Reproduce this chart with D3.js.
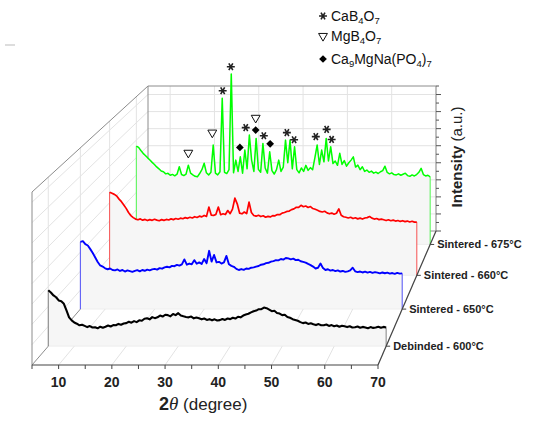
<!DOCTYPE html>
<html>
<head>
<meta charset="UTF-8">
<style>
  body { margin: 0; background: #fff; }
  svg { display: block; font-family: "Liberation Sans", Arial, sans-serif; }
</style>
</head>
<body>
<svg width="550" height="422"></svg>
<script src="https://d3js.org/d3.v7.min.js"></script>
<script>

// 2theta grid: 5..70 deg, 0.5 deg step
const angleStart = 5, angleStep = 0.5;

const seriesNames = ["Debinded - 600°C", "Sintered - 650°C", "Sintered - 660°C", "Sintered - 675°C"];
const seriesColors = ["#000000", "#0000ff", "#ff0000", "#00ff00"];

const debinded600 = [
  28.1, 27.0, 25.5, 24.6, 23.0, 22.6, 21.3, 18.0, 14.5, 13.0,
  11.9, 11.3, 10.5, 10.8, 10.2, 9.6, 10.1, 9.4, 9.5, 9.0,
  9.8, 9.3, 9.8, 10.4, 9.9, 10.6, 10.5, 11.2, 10.8, 11.4,
  11.6, 12.3, 11.8, 12.6, 12.1, 13.0, 12.8, 13.8, 14.0, 13.5,
  14.6, 14.1, 14.5, 15.4, 14.9, 15.8, 15.6, 15.0, 16.2, 15.6,
  16.6, 15.4, 15.0, 14.7, 14.5, 14.9, 14.0, 14.4, 14.0, 13.5,
  13.9, 13.2, 13.6, 13.0, 13.5, 12.9, 13.1, 13.7, 13.2, 13.9,
  13.6, 14.3, 13.9, 14.8, 14.5, 15.4, 15.9, 16.3, 17.0, 17.6,
  17.9, 18.6, 18.6, 19.4, 19.1, 18.4, 17.6, 17.8, 16.7, 16.4,
  15.6, 15.8, 14.7, 14.3, 13.6, 13.2, 12.8, 12.1, 11.6, 11.9,
  11.2, 11.5, 11.0, 10.6, 11.1, 10.5, 10.5, 10.9, 10.2, 10.6,
  10.0, 10.4, 9.8, 10.3, 10.0, 9.6, 10.0, 9.4, 9.5, 9.9,
  9.3, 9.7, 9.4, 9.0, 9.6, 9.2, 9.4, 9.8, 9.3, 9.7,
  9.4
];

const sintered650 = [
  35.4, 35.8, 34.2, 33.5, 31.6, 29.6, 27.2, 24.8, 23.0, 22.4,
  21.5, 21.0, 21.4, 20.6, 20.4, 20.9, 20.1, 20.6, 19.8, 20.4,
  20.0, 19.6, 20.1, 20.5, 19.9, 20.6, 20.2, 20.8, 20.4, 20.9,
  21.2, 20.8, 21.6, 21.3, 22.0, 22.3, 22.0, 22.8, 22.6, 23.3,
  22.9, 23.6, 26.2, 23.4, 24.0, 23.6, 25.8, 23.9, 24.6, 23.8,
  26.4, 24.2, 30.7, 25.0, 28.5, 24.6, 24.9, 24.0, 24.6, 28.0,
  23.6, 22.8, 22.3, 21.2, 20.6, 21.1, 20.7, 21.4, 21.2, 21.8,
  22.0, 22.4, 22.7, 23.4, 23.6, 24.2, 24.4, 25.0, 25.3, 25.8,
  25.7, 26.4, 26.1, 26.9, 26.7, 26.2, 26.6, 25.8, 26.0, 25.2,
  24.9, 24.5, 23.8, 23.2, 22.4, 21.4, 21.8, 24.0, 21.6, 20.6,
  21.0, 20.3, 20.6, 20.0, 20.4, 19.8, 20.1, 19.6, 19.9, 20.4,
  21.8, 19.9, 19.5, 19.8, 19.3, 19.7, 19.2, 19.6, 19.1, 19.5,
  19.2, 18.8, 19.3, 18.9, 19.2, 18.7, 19.0, 18.6, 19.1, 18.7,
  18.8
];

const sintered660 = [
  45.8, 45.2, 44.6, 43.7, 42.0, 40.6, 38.8, 36.9, 34.6, 32.9,
  31.8, 31.0, 30.6, 31.1, 30.4, 30.8, 30.2, 30.7, 30.3, 30.9,
  30.4, 30.1, 30.7, 30.3, 30.8, 30.5, 31.1, 30.7, 31.3, 30.9,
  31.5, 31.2, 31.8, 31.4, 32.0, 31.6, 32.3, 31.9, 32.6, 32.2,
  33.0, 32.5, 37.6, 33.2, 33.0, 33.6, 37.6, 33.4, 33.9, 33.5,
  35.7, 34.0, 36.5, 42.5, 39.4, 34.3, 33.9, 34.9, 34.0, 40.3,
  34.6, 33.0, 32.6, 33.1, 32.4, 32.8, 32.0, 32.5, 32.2, 32.9,
  32.8, 33.5, 33.4, 34.3, 34.6, 35.2, 35.4, 36.2, 36.6, 37.5,
  37.4, 38.6, 37.8, 38.2, 37.4, 37.9, 36.8, 36.4, 35.9, 35.2,
  34.9, 35.3, 34.4, 33.9, 34.3, 33.7, 34.2, 36.6, 33.1, 32.3,
  32.0, 31.6, 32.0, 31.3, 31.7, 31.1, 31.5, 31.0, 31.6, 31.8,
  32.4, 31.5, 31.0, 31.3, 30.7, 31.0, 30.6, 30.2, 30.6, 30.1,
  30.4, 29.9, 30.2, 29.7, 30.1, 29.6, 29.9, 29.4, 29.8, 29.3,
  29.3
];

const sintered675 = [
  56.6, 55.8, 54.0, 52.4, 51.2, 49.8, 48.6, 47.2, 46.0, 44.6,
  43.5, 42.2, 41.8, 40.6, 40.9, 39.8, 40.3, 39.5, 40.4, 44.7,
  40.2, 39.6, 40.5, 45.6, 41.0, 40.0, 39.2, 38.9, 40.8, 43.0,
  46.7, 41.2, 40.0, 41.5, 57.2, 41.0, 40.0, 41.8, 84.1, 41.5,
  40.8, 43.0, 98.0, 41.2, 48.5, 42.0, 50.4, 41.0, 54.3, 43.5,
  62.9, 48.5, 42.0, 61.0, 43.2, 41.5, 58.1, 44.0, 41.0, 53.3,
  42.5, 40.5, 43.0, 48.5, 42.0, 44.5, 60.0, 47.0, 60.0, 43.5,
  56.2, 43.0, 41.2, 44.0, 42.0, 45.5, 42.6, 44.2, 43.0, 50.0,
  57.2, 46.0, 54.3, 47.5, 61.0, 48.0, 56.2, 46.5, 48.0, 45.5,
  52.4, 46.0, 48.2, 45.0, 47.0, 48.5, 50.4, 44.5, 45.6, 43.0,
  44.7, 42.0, 42.8, 41.5, 42.2, 41.0, 41.6, 40.8, 41.8, 42.5,
  45.0, 41.4, 40.6, 41.2, 40.2, 40.0, 40.6, 39.8, 40.4, 41.0,
  39.6, 39.2, 40.0, 39.4, 40.2, 41.5, 43.8, 40.2, 39.4, 39.8,
  38.9
];

const seriesValues = [debinded600, sintered650, sintered660, sintered675];

// phase markers on the 675 °C pattern: [2theta, height]
const cab4o7Marks = [[24.1, 88.4], [25.9, 102.2], [29.2, 67.2], [33.2, 62.5], [38.3, 64.3],
                     [39.9, 60.2], [44.7, 62.0], [47.1, 66.2], [48.2, 60.4]];
const mgb4o7Marks = [[16.5, 52.7], [21.8, 64.3], [31.4, 72.8]];
const ca9Marks = [[27.9, 55.8], [31.4, 65.8], [34.6, 57.9]];

const xTicks = [10, 20, 30, 40, 50, 60, 70];
const xMinorTicks = [5, 15, 25, 35, 45, 55, 65];
const hGrid = [10, 20, 30, 40, 50, 60, 70, 80];
const hTicks = [0, 5, 10, 15, 20, 25, 30, 35, 40, 45, 50, 55, 60, 65, 70, 75, 80, 85];

seriesValues.forEach((s, i) => {
  if (s.length !== 131) throw new Error("series " + i + " has " + s.length + " points");
});

let svg = d3.select("svg");

// --- perspective box: 2theta 5..70, depth 0..1, height 0..85
const persp = 0.198;
const screenT = z => z * (1 + persp) / (1 + persp * z);
const leftX = d3.scaleLinear().domain([0, 1]).range([32, 148]);
const rightX = d3.scaleLinear().domain([0, 1]).range([378, 436]);
const baseY = d3.scaleLinear().domain([0, 1]).range([365, 231]);
const topY = d3.scaleLinear().domain([0, 1]).range([192, 86]);
const zScale = d3.scaleLinear().domain([0, 3]).range([0.12, 0.882]);

function plane(z) {
  let t = screenT(z);
  return {
    x: d3.scaleLinear().domain([5, 70]).range([leftX(t), rightX(t)]),
    y: d3.scaleLinear().domain([0, 85]).range([baseY(t), topY(t)])
  };
}
function P(a, z, h) { let p = plane(z); return [p.x(a), p.y(h)]; }

function seg(g, p1, p2, color, w) {
  return g.append("line")
    .attr("x1", p1[0]).attr("y1", p1[1])
    .attr("x2", p2[0]).attr("y2", p2[1])
    .attr("stroke", color).attr("stroke-width", w);
}

// stray mark at top-left of the original figure
seg(svg, [5, 45], [15, 45], "#bbbbbb", 1);

let grid = svg.append("g");
const gridColor = "#e3e3e3";

// back wall
xTicks.forEach(a => seg(grid, P(a, 1, 0), P(a, 1, 85), gridColor, 1));
hGrid.forEach(h => seg(grid, P(5, 1, h), P(70, 1, h), gridColor, 1));
// left wall
hGrid.forEach(h => seg(grid, P(5, 0, h), P(5, 1, h), gridColor, 1));
seriesNames.forEach((n, i) => seg(grid, P(5, zScale(i), 0), P(5, zScale(i), 85), gridColor, 1));
// floor
xTicks.forEach(a => seg(grid, P(a, 0, 0), P(a, 1, 0), gridColor, 1));

// box edges
let edges = svg.append("g");
const edgeColor = "#8c8c8c";
seg(edges, P(5, 0, 0), P(5, 0, 85), edgeColor, 1);
seg(edges, P(5, 0, 85), P(5, 1, 85), edgeColor, 1);
seg(edges, P(5, 1, 85), P(70, 1, 85), edgeColor, 1);
seg(edges, P(5, 1, 0), P(5, 1, 85), edgeColor, 1);
seg(edges, P(70, 1, 0), P(70, 1, 85), edgeColor, 1);
seg(edges, P(5, 0, 0), P(5, 1, 0), edgeColor, 1);
seg(edges, P(5, 1, 0), P(70, 1, 0), edgeColor, 1);

// intensity ticks on back-right edge
hTicks.forEach(h => {
  let p = P(70, 1, h);
  seg(edges, p, [p[0] + (h % 10 === 0 ? 5 : 3), p[1]], "#555", 1);
});

// --- series, back to front
const lineWidths = [2.1, 1.9, 1.7, 1.5];
let line = d3.line();
for (let k = seriesValues.length - 1; k >= 0; k--) {
  let z = zScale(k), p = plane(z);
  let pts = seriesValues[k].map((v, i) => [p.x(angleStart + i * angleStep), p.y(v)]);
  let g = svg.append("g");
  let poly = pts.concat([[p.x(70), p.y(0)], [p.x(5), p.y(0)]]);
  g.append("path")
    .attr("d", line(poly) + "Z")
    .attr("fill", "#f6f6f6")
    .attr("stroke", "#e6e6e6")
    .attr("stroke-width", 0.6);
  seg(g, [p.x(5), p.y(0)], pts[0], seriesColors[k], 1);
  seg(g, [p.x(70), p.y(0)], pts[pts.length - 1], seriesColors[k], 1);
  g.selectAll("line").attr("stroke-opacity", k === 0 ? 0.45 : 0.65);
  g.append("path")
    .attr("d", line(pts))
    .attr("fill", "none")
    .attr("stroke", seriesColors[k])
    .attr("stroke-width", lineWidths[k])
    .attr("stroke-linejoin", "round");
}

// --- phase markers
let mk = svg.append("g");
let pg = plane(zScale(3));
let star = d3.symbol(d3.symbolAsterisk, 44);
let tri = d3.symbol(d3.symbolTriangle, 34);
let dia = d3.symbol(d3.symbolSquare, 30);
function drawStar(x, y) {
  mk.append("path").attr("d", star()).attr("transform", `translate(${x},${y}) rotate(90)`)
    .attr("fill", "none").attr("stroke", "#222").attr("stroke-width", 1.6);
}
function drawTri(x, y) {
  mk.append("path").attr("d", tri()).attr("transform", `translate(${x},${y}) rotate(180)`)
    .attr("fill", "#fff").attr("stroke", "#111").attr("stroke-width", 1);
}
function drawDia(x, y) {
  mk.append("path").attr("d", dia()).attr("transform", `translate(${x},${y}) rotate(45)`)
    .attr("fill", "#000");
}
cab4o7Marks.forEach(d => drawStar(pg.x(d[0]), pg.y(d[1])));
mgb4o7Marks.forEach(d => drawTri(pg.x(d[0]), pg.y(d[1])));
ca9Marks.forEach(d => drawDia(pg.x(d[0]), pg.y(d[1])));

// legend
drawStar(323, 16);
drawTri(323, 36);
drawDia(323, 59);
let lg = svg.append("g").attr("font-size", 14).attr("fill", "#111");
function chem(y, parts) {
  let t = lg.append("text").attr("x", 331).attr("y", y);
  parts.forEach(pt => {
    if (pt[1]) t.append("tspan").attr("dy", 3).attr("font-size", 9.5).text(pt[0]);
    else t.append("tspan").attr("dy", pt[2] ? -3 : 0).text(pt[0]);
  });
}
chem(21, [["CaB", 0], ["4", 1], ["O", 0, 1], ["7", 1]]);
chem(41, [["MgB", 0], ["4", 1], ["O", 0, 1], ["7", 1]]);
chem(64, [["Ca", 0], ["9", 1], ["MgNa(PO", 0, 1], ["4", 1], [")", 0, 1], ["7", 1]]);

// --- axes
let ax = svg.append("g");
seg(ax, P(5, 0, 0), P(70, 0, 0), "#444", 1.2);
seg(ax, P(70, 0, 0), P(70, 1, 0), "#444", 1.2);
xMinorTicks.concat(xTicks).forEach(a => {
  let p = P(a, 0, 0);
  seg(ax, p, [p[0], p[1] + 4], "#444", 1);
});
xTicks.forEach(a => {
  let p = P(a, 0, 0);
  ax.append("text").attr("x", p[0]).attr("y", p[1] + 22)
    .attr("text-anchor", "middle").attr("font-size", 14).attr("font-weight", "bold")
    .attr("fill", "#222").text(a);
});
seriesNames.forEach((n, i) => {
  let p = P(70, zScale(i), 0);
  seg(ax, p, [p[0] + 4, p[1]], "#444", 1);
  ax.append("text").attr("x", p[0] + 7).attr("y", p[1] + 4)
    .attr("font-size", 11).attr("font-weight", "bold").attr("fill", "#222").text(n);
});

// axis titles
let xt = svg.append("text").attr("x", 159).attr("y", 410).attr("fill", "#222");
xt.append("tspan").attr("font-size", 18).attr("font-weight", "bold").text("2");
xt.append("tspan").attr("font-size", 19).attr("font-style", "italic")
  .attr("font-family", "'Liberation Serif', serif").text("θ");
xt.append("tspan").attr("font-size", 17).text(" (degree)");

let yt = svg.append("text").attr("transform", "translate(462,157) rotate(-90)")
  .attr("text-anchor", "middle").attr("font-size", 15).attr("fill", "#222");
yt.append("tspan").attr("font-weight", "bold").text("Intensity");
yt.append("tspan").text(" (a.u.)");

</script>
</body>
</html>
